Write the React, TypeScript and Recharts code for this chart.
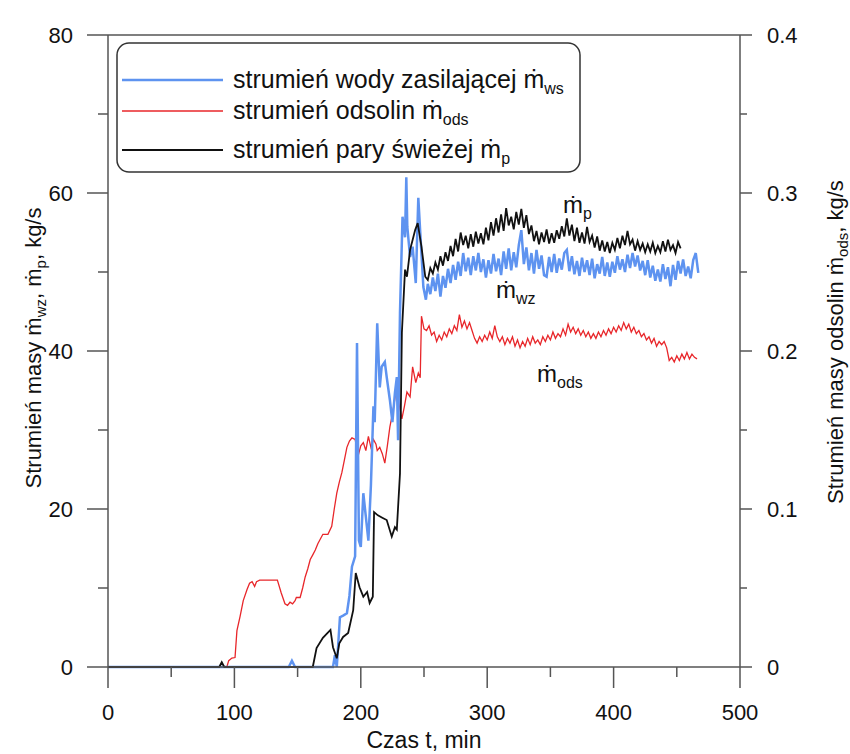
import React from 'react';
import { LineChart, Line, XAxis, YAxis } from 'recharts';

// ---- data (t in min) ----
// steam flow m_p, kg/s
const steamT = [0, 88, 90, 92, 162, 165, 170, 176, 178, 181, 183, 186, 190, 194, 196, 199, 202, 205, 207, 209.5, 210.5, 213.5, 217, 220.5, 224.5, 227, 228.5, 231, 232.5, 235, 236.5, 239, 243, 245, 248, 251, 253];
const steamV = [0, 0, 0.6, 0, 0, 2.4, 3.7, 4.7, 2.5, 1.1, 3.0, 3.8, 4.3, 7.2, 11.9, 10.1, 8.9, 9.5, 8.1, 8.9, 19.6, 19.2, 18.9, 18.6, 16.5, 17.7, 17.4, 24.5, 42.3, 50.3, 49.4, 52.8, 55.3, 56.2, 53.2, 49.4, 49.0];
const steamNoisyStart = 255;
const steamNoisy = [
  50.5, 49.8, 51.2, 50.3, 52.0, 50.8, 52.5, 51.4, 53.3, 52.0,
  54.2, 52.6, 55.0, 53.4, 54.6, 53.0, 54.8, 53.2, 55.1, 53.6,
  54.9, 53.5, 55.6, 54.0, 56.3, 54.6, 56.8, 55.0, 57.3, 55.2,
  58.1, 55.9, 57.0, 55.4, 57.6, 56.0, 58.0, 55.6, 57.2, 54.8,
  55.9, 53.9, 55.2, 53.5, 55.0, 53.8, 55.4, 53.6, 54.9, 53.7,
  55.3, 54.2, 55.8, 54.5, 56.8, 54.6, 56.0, 53.9, 55.6, 53.7,
  55.0, 53.6, 55.7, 53.8, 54.6, 53.1, 54.5, 52.7, 54.0, 52.6,
  53.8, 52.4, 53.7, 52.8, 54.3, 53.0, 54.6, 53.4, 55.2, 53.5,
  54.1, 52.7, 53.9, 52.8, 53.6, 52.5, 53.5, 52.6, 53.7, 52.4,
  53.3, 52.5, 53.9, 52.6, 54.1, 52.8, 53.4, 52.4, 53.8, 53.0,
];

// feed water flow m_ws, kg/s
const waterT = [0, 143, 145.5, 148, 178, 179.5, 181, 183.5, 186, 189, 191, 193, 195.5, 197, 198.5, 200, 202, 204, 206, 208, 210, 211, 213, 215, 216.5, 219, 220.5, 223, 225, 227, 228.5, 229.5, 231, 233, 235, 236, 236.8, 239, 241, 243.5, 245.5, 247.5, 249.5, 251.5];
const waterV = [0, 0, 0.8, 0, 0, 1.5, 0, 6.3, 6.5, 6.8, 9.0, 12.7, 14, 41, 16, 15.2, 22, 19, 16, 23, 33, 31, 43.5, 35.4, 38, 38.6, 36.7, 33.8, 31, 34.7, 36.7, 28.7, 44.8, 57, 54.4, 62, 55.7, 51.9, 53.2, 48.6, 59.4, 53.7, 48.1, 46.5];
const waterNoisyStart = 253;
const waterNoisy = [
  48.5, 47.2, 49.3, 47.6, 49.8, 46.9, 49.5, 48.0, 50.4, 48.6,
  50.9, 49.0, 51.3, 49.5, 52.4, 50.1, 51.8, 49.6, 52.0, 50.2,
  52.4, 50.0, 51.6, 49.3, 51.5, 49.8, 52.3, 50.1, 51.7, 49.6,
  52.6, 50.4, 53.0, 50.2, 52.5, 50.6, 53.4, 55.3, 51.0, 53.1,
  50.2, 52.4, 49.8, 52.8, 50.4, 52.1, 49.6, 49.4, 51.9, 50.0,
  52.3, 49.9, 51.7, 50.3, 52.4, 52.8, 50.1, 52.0, 49.7, 51.4,
  49.5, 51.8, 50.0, 51.5, 49.6, 51.7, 49.2, 51.0, 49.8, 51.9,
  49.5, 51.2, 49.4, 51.3, 49.9, 52.0, 50.3, 51.6, 50.0, 52.2,
  50.5, 52.4, 50.7, 52.1, 50.2, 51.4, 49.6, 51.5, 49.3, 50.8,
  48.9, 50.3, 48.8, 51.0, 49.1, 50.6, 48.2, 50.9, 49.0, 51.4,
  49.8, 51.6, 49.5, 50.7, 49.2, 51.5, 52.4, 49.9,
];

// blowdown flow m_ods, kg/s (right axis)
const blowT = [0, 94, 95.5, 98, 100.5, 102, 104.5, 107, 110, 112, 114, 116, 117.5, 120, 125, 130, 134, 137, 140, 142, 144, 146, 148, 149, 152, 154, 156, 158, 160, 162, 164, 166, 168, 170, 172, 174, 177, 179, 181, 183, 185, 187, 189, 191, 193, 195.5, 198, 200, 202, 204, 206, 208, 210, 212, 213, 215, 217, 219, 221, 223, 225, 227, 228.5, 230, 232.5, 234.5, 236.5, 239, 241, 243.5, 245.5, 247, 248];
const blowV = [0, 0, 0.004, 0.0057, 0.006, 0.023, 0.032, 0.042, 0.049, 0.053, 0.054, 0.051, 0.054, 0.055, 0.055, 0.055, 0.055, 0.047, 0.04, 0.039, 0.041, 0.04, 0.042, 0.044, 0.044, 0.05, 0.057, 0.062, 0.068, 0.071, 0.074, 0.078, 0.081, 0.084, 0.084, 0.084, 0.089, 0.1, 0.11, 0.117, 0.123, 0.131, 0.139, 0.143, 0.145, 0.144, 0.134, 0.14, 0.142, 0.137, 0.146, 0.139, 0.144, 0.141, 0.137, 0.139, 0.135, 0.129, 0.14, 0.152, 0.16, 0.17, 0.18, 0.168, 0.157, 0.165, 0.174, 0.171, 0.19, 0.18, 0.186, 0.183, 0.222];
const blowNoisyStart = 250;
const blowNoisy = [
  0.214, 0.213, 0.216, 0.21, 0.212, 0.206, 0.21, 0.207, 0.212, 0.209,
  0.214, 0.211, 0.216, 0.213, 0.223, 0.215, 0.219, 0.214, 0.218, 0.213,
  0.208, 0.205, 0.209, 0.206, 0.21, 0.207, 0.212, 0.208, 0.216, 0.209,
  0.206, 0.209, 0.204, 0.208, 0.205, 0.209, 0.203, 0.207, 0.202, 0.206,
  0.203, 0.208, 0.204, 0.209, 0.205, 0.207, 0.204, 0.209, 0.206, 0.21,
  0.207, 0.212, 0.208, 0.211, 0.209, 0.214, 0.21, 0.217, 0.212, 0.215,
  0.211, 0.214, 0.21, 0.213, 0.209, 0.212, 0.208, 0.211, 0.208, 0.212,
  0.209, 0.213, 0.21, 0.214, 0.211, 0.215, 0.212, 0.216, 0.213, 0.218,
  0.214, 0.217, 0.212, 0.215, 0.211, 0.213, 0.209, 0.211, 0.207, 0.209,
  0.205, 0.208, 0.203, 0.206, 0.204, 0.206, 0.202, 0.194, 0.196, 0.193,
  0.197, 0.194, 0.198, 0.195, 0.199, 0.195, 0.198, 0.196, 0.195,
];
const SAMPLE_STEP = 2;

const xTicks = [0, 50, 100, 150, 200, 250, 300, 350, 400, 450, 500];
const leftTicks = [0, 10, 20, 30, 40, 50, 60, 70, 80];
const rightTicks = [0, 0.05, 0.1, 0.15, 0.2, 0.25, 0.3, 0.35, 0.4];

const build = (ts: number[], vs: number[], start: number, noisy: number[]) => [
  ...ts.map((t, i) => ({ t, v: vs[i] })),
  ...noisy.map((v, i) => ({ t: start + i * SAMPLE_STEP, v })),
];

const steam = build(steamT, steamV, steamNoisyStart, steamNoisy);
const water = build(waterT, waterV, waterNoisyStart, waterNoisy);
const blow = build(blowT, blowV, blowNoisyStart, blowNoisy);

const FONT = '"Liberation Sans", Arial, sans-serif';
const AXIS = '#555';
const BLUE = '#5e93f0';
const RED = '#e8262a';
const BLACK = '#111111';

const BottomTick = (props: any) => {
  const { x, y, payload } = props;
  const major = payload.value % 100 === 0;
  return (
    <g>
      <line x1={x} y1={y} x2={x} y2={y + (major ? 21 : 10)} stroke={AXIS} strokeWidth={1.5} />
      {major && (
        <text x={x} y={y + 53} textAnchor="middle" fontSize={22} fill="#111" fontFamily={FONT}>
          {payload.value}
        </text>
      )}
    </g>
  );
};

const TopTick = (props: any) => {
  const { x, y, payload } = props;
  const major = payload.value % 100 === 0;
  return <line x1={x} y1={y} x2={x} y2={y - (major ? 21 : 10)} stroke={AXIS} strokeWidth={1.5} />;
};

const LeftTick = (props: any) => {
  const { x, y, payload } = props;
  const major = payload.value % 20 === 0;
  return (
    <g>
      <line x1={x} y1={y} x2={x - (major ? 21 : 10)} y2={y} stroke={AXIS} strokeWidth={1.5} />
      {major && (
        <text x={x - 35} y={y + 8} textAnchor="end" fontSize={22} fill="#111" fontFamily={FONT}>
          {payload.value}
        </text>
      )}
    </g>
  );
};

const RightTick = (props: any) => {
  const { x, y, payload } = props;
  const major = Math.round(payload.value * 100) % 10 === 0;
  return (
    <g>
      <line x1={x} y1={y} x2={x + (major ? 12 : 7)} y2={y} stroke={AXIS} strokeWidth={1.5} />
      {major && (
        <text x={x + 27} y={y + 8} textAnchor="start" fontSize={22} fill="#111" fontFamily={FONT}>
          {payload.value === 0 ? '0' : payload.value.toFixed(1)}
        </text>
      )}
    </g>
  );
};

const legendRows = [
  { color: BLUE, width: 2.5, name: 'strumień wody zasilającej ṁ', sub: 'ws', y: 80 },
  { color: RED, width: 1.3, name: 'strumień odsolin ṁ', sub: 'ods', y: 111 },
  { color: BLACK, width: 1.8, name: 'strumień pary świeżej ṁ', sub: 'p', y: 150 },
];

const Mdot = ({ x, y, sub }: { x: number; y: number; sub: string }) => (
  <text x={x} y={y} fontSize={24} fill="#111">
    ṁ<tspan dy={6} fontSize={16}>{sub}</tspan>
  </text>
);

export default function App() {
  return (
    <div style={{ position: 'absolute', left: 0, top: 0, width: 850, height: 754, background: '#fff' }}>
      <LineChart width={850} height={754} margin={{ top: 15, right: 50, bottom: 27, left: 48 }}>
        <XAxis
          xAxisId="b"
          dataKey="t"
          type="number"
          domain={[0, 500]}
          ticks={xTicks}
          interval={0}
          height={60}
          tickSize={0}
          tickMargin={0}
          tick={<BottomTick />}
          axisLine={{ stroke: AXIS, strokeWidth: 1.5 }}
          allowDataOverflow
        />
        <XAxis
          xAxisId="top"
          orientation="top"
          dataKey="t"
          type="number"
          domain={[0, 500]}
          ticks={xTicks}
          interval={0}
          height={20}
          tickSize={0}
          tickMargin={0}
          tick={<TopTick />}
          axisLine={{ stroke: AXIS, strokeWidth: 1.5 }}
        />
        <YAxis
          yAxisId="l"
          type="number"
          domain={[0, 80]}
          ticks={leftTicks}
          interval={0}
          width={60}
          tickSize={0}
          tickMargin={0}
          tick={<LeftTick />}
          axisLine={{ stroke: AXIS, strokeWidth: 1.5 }}
        />
        <YAxis
          yAxisId="r"
          orientation="right"
          type="number"
          domain={[0, 0.4]}
          ticks={rightTicks}
          interval={0}
          width={60}
          tickSize={0}
          tickMargin={0}
          tick={<RightTick />}
          axisLine={{ stroke: AXIS, strokeWidth: 1.5 }}
        />
        <Line xAxisId="b" yAxisId="r" data={blow} dataKey="v" type="linear" stroke={RED} strokeWidth={1.3} dot={false} isAnimationActive={false} />
        <Line xAxisId="b" yAxisId="l" data={water} dataKey="v" type="linear" stroke={BLUE} strokeWidth={2.5} dot={false} isAnimationActive={false} />
        <Line xAxisId="b" yAxisId="l" data={steam} dataKey="v" type="linear" stroke={BLACK} strokeWidth={1.8} dot={false} isAnimationActive={false} />
      </LineChart>

      <svg width={850} height={754} style={{ position: 'absolute', left: 0, top: 0, pointerEvents: 'none' }} fontFamily={FONT}>
        {/* legend */}
        <rect x={117} y={43} width={463} height={129} rx={12} fill="#fff" stroke="#333" strokeWidth={1.5} />
        {legendRows.map((r) => (
          <g key={r.sub}>
            <line x1={122} x2={223} y1={r.y} y2={r.y} stroke={r.color} strokeWidth={r.width} />
            <text x={233} y={r.y + 8} fontSize={25} fill="#111">
              {r.name}
              <tspan dy={6} fontSize={16}>{r.sub}</tspan>
            </text>
          </g>
        ))}

        {/* curve annotations */}
        <Mdot x={563} y={213} sub="p" />
        <Mdot x={496} y={298} sub="wz" />
        <Mdot x={537} y={382} sub="ods" />

        {/* axis titles */}
        <text x={424} y={748} textAnchor="middle" fontSize={23} fill="#111">Czas t, min</text>
        <text transform="translate(41,348) rotate(-90)" textAnchor="middle" fontSize={22} fill="#111">
          Strumień masy ṁ<tspan dy={5} fontSize={15}>wz</tspan>
          <tspan dy={-5}>, ṁ</tspan>
          <tspan dy={5} fontSize={15}>p</tspan>
          <tspan dy={-5}>, kg/s</tspan>
        </text>
        <text transform="translate(843,342) rotate(-90)" textAnchor="middle" fontSize={22} fill="#111">
          Strumień masy odsolin ṁ<tspan dy={5} fontSize={15}>ods</tspan>
          <tspan dy={-5}>, kg/s</tspan>
        </text>
      </svg>
    </div>
  );
}
